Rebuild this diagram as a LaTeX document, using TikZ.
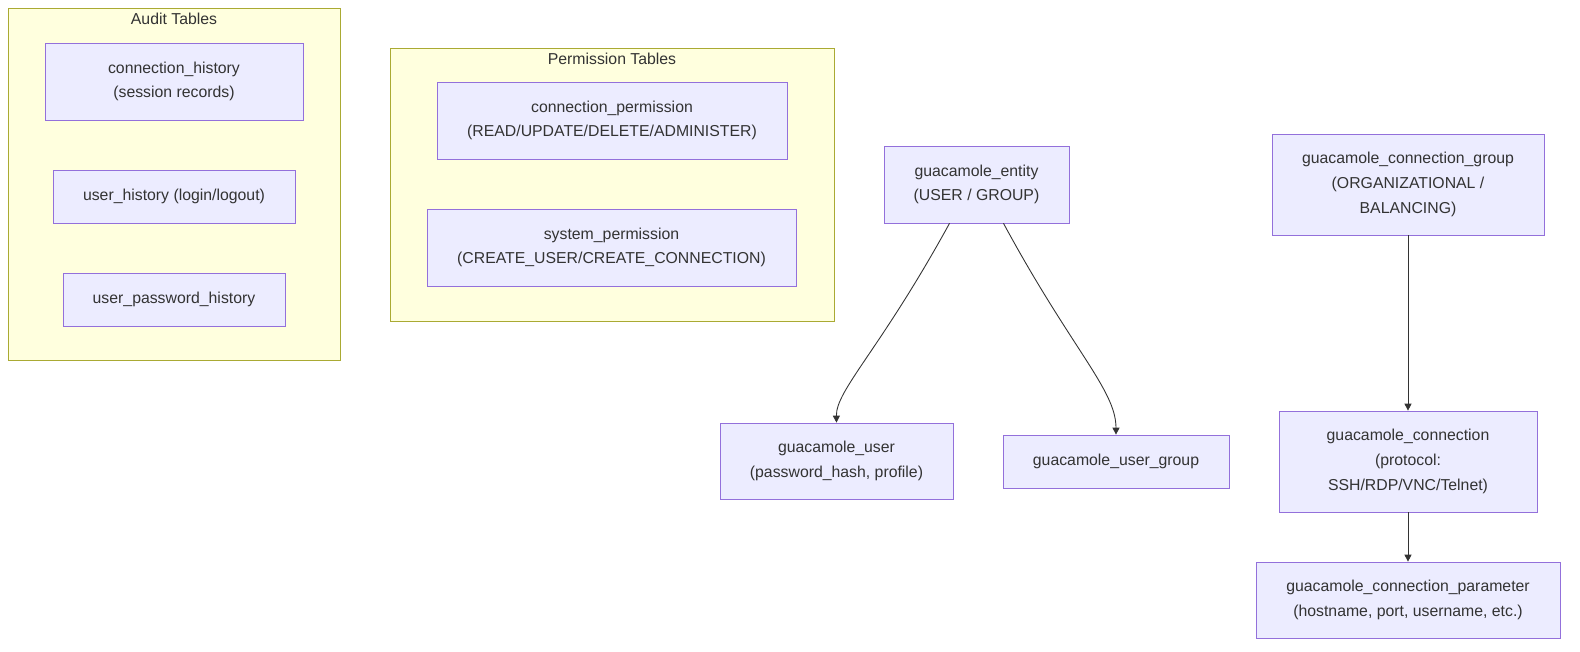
\documentclass[tikz,border=0pt]{standalone}
\usepackage{fontspec}
\setmainfont{Liberation Sans}
\usetikzlibrary{arrows.meta}
\definecolor{nodefill}{HTML}{ECECFF}
\definecolor{nodeline}{HTML}{9370DB}
\definecolor{clusterfill}{HTML}{FFFFDE}
\definecolor{clusterline}{HTML}{AAAA33}
\definecolor{ink}{HTML}{333333}
\tikzset{
  tbl/.style={draw=nodeline,fill=nodefill,text=ink,align=center,font=\fontsize{9}{14}\selectfont,inner sep=0pt},
  cluster/.style={draw=clusterline,fill=clusterfill,inner sep=0pt},
  title/.style={text=ink,font=\fontsize{9}{11}\selectfont},
  link/.style={draw=ink,line width=0.5pt,-{Triangle[length=4pt,width=4pt]}}
}
\begin{document}
\begin{tikzpicture}[x=0.02cm,y=-0.02cm]
    \useasboundingbox (0,0) rectangle (1580,652);

    % clusters
    \node[cluster,minimum width=332*0.02cm,minimum height=352*0.02cm] (audit) at (174,184) {};
    \node[title] (audit_t) at (174,19) {Audit Tables};
    \node[cluster,minimum width=444*0.02cm,minimum height=273*0.02cm] (perm) at (612,184.5) {};
    \node[title] (perm_t) at (612,59) {Permission Tables};

    % audit tables
    \node[tbl,minimum width=258*0.02cm,minimum height=77*0.02cm] (conn_hist) at (174,81.5) {connection\_history\\(session records)};
    \node[tbl,minimum width=242*0.02cm,minimum height=53*0.02cm] (user_hist) at (174,196.5) {user\_history (login/logout)};
    \node[tbl,minimum width=222*0.02cm,minimum height=53*0.02cm] (pass_hist) at (174,299.5) {user\_password\_history};

    % permission tables
    \node[tbl,minimum width=350*0.02cm,minimum height=77*0.02cm] (conn_perm) at (612,120.5) {connection\_permission\\(READ/UPDATE/DELETE/ADMINISTER)};
    \node[tbl,minimum width=369*0.02cm,minimum height=77*0.02cm] (sys_perm) at (611.5,247.5) {system\_permission\\(CREATE\_USER/CREATE\_CONNECTION)};

    % entities
    \node[tbl,minimum width=185*0.02cm,minimum height=77*0.02cm] (entity) at (976.5,184.5) {guacamole\_entity\\(USER / GROUP)};
    \node[tbl,minimum width=233*0.02cm,minimum height=76*0.02cm] (user) at (836.5,461) {guacamole\_user\\(password\_hash, profile)};
    \node[tbl,minimum width=226*0.02cm,minimum height=53*0.02cm] (group) at (1116,461.5) {guacamole\_user\_group};

    % connections
    \node[tbl,minimum width=272*0.02cm,minimum height=101*0.02cm] (conn_group) at (1408,184.5) {guacamole\_connection\_group\\(ORGANIZATIONAL /\\BALANCING)};
    \node[tbl,minimum width=258*0.02cm,minimum height=101*0.02cm] (conn) at (1408,461.5) {guacamole\_connection\\(protocol:\\SSH/RDP/VNC/Telnet)};
    \node[tbl,minimum width=304*0.02cm,minimum height=76*0.02cm] (param) at (1408,600) {guacamole\_connection\_parameter\\(hostname, port, username, etc.)};

    \draw[link] ([xshift=-27*0.02cm]entity.south) .. controls (880,350) and (836,390) .. (user.north);
    \draw[link] ([xshift=27*0.02cm]entity.south) .. controls (1072,350) and (1116,390) .. (group.north);
    \draw[link] (conn_group) -- (conn);
    \draw[link] (conn) -- (param);
\end{tikzpicture}
\end{document}
